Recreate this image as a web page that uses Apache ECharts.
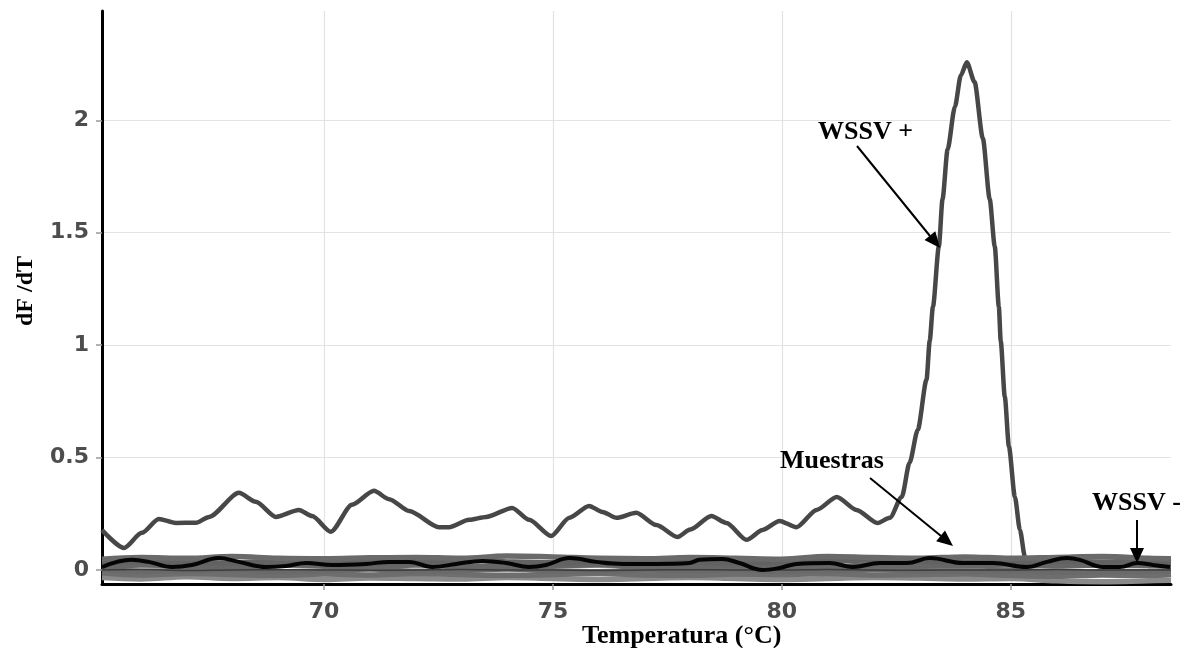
<!DOCTYPE html>
<html>
<head>
<meta charset="utf-8">
<script src="https://cdn.jsdelivr.net/npm/echarts@6/dist/echarts.min.js"></script>
<style>
html,body{margin:0;padding:0;background:#fff;}
#chart{width:1185px;height:648px;}
</style>
</head>
<body>
<div id="chart"></div>
<script>
// ---- Data ----
// WSSV + (positive control) melt-derivative curve
const wssvPosTemp = [65.15,65.63,66.02,66.39,66.76,67.20,67.49,68.14,68.51,68.95,69.45,69.74,70.15,70.61,71.09,71.42,71.86,72.51,72.73,73.17,73.54,74.11,74.48,74.96,75.36,75.79,76.08,76.39,76.82,77.26,77.72,78.00,78.46,78.79,79.23,79.58,79.95,80.32,80.76,81.20,81.63,82.09,82.36,82.62,82.79,82.97,83.16,83.23,83.30,83.43,83.51,83.62,83.78,83.91,84.04,84.21,84.39,84.54,84.65,84.74,84.78,84.87,84.96,85.09,85.20,85.31,85.40,85.8,86.5,87.3,88.0,88.5];
const wssvPosVal  = [0.178,0.098,0.165,0.227,0.209,0.210,0.236,0.343,0.303,0.236,0.267,0.240,0.170,0.290,0.352,0.315,0.262,0.190,0.190,0.223,0.236,0.276,0.223,0.151,0.232,0.285,0.258,0.232,0.254,0.200,0.147,0.180,0.240,0.209,0.134,0.178,0.218,0.190,0.267,0.325,0.267,0.209,0.232,0.325,0.477,0.624,0.846,1.020,1.170,1.440,1.650,1.870,2.060,2.200,2.258,2.170,1.920,1.650,1.440,1.170,1.020,0.770,0.548,0.325,0.178,0.058,0.020,0.030,0.020,0.025,0.020,0.020];

// WSSV - (negative control, black line)
const wssvNegTemp = [65.15,65.80,66.17,66.68,67.11,67.70,68.14,68.73,69.17,69.61,70.17,70.92,71.42,71.86,72.36,72.89,73.46,73.98,74.48,74.85,75.36,75.95,76.52,77.26,77.98,78.20,78.70,79.07,79.58,79.95,80.32,81.04,81.55,82.14,82.73,83.23,83.95,84.61,85.35,85.79,86.23,86.51,87.01,87.38,87.76,88.11,88.48];
const wssvNegVal  = [0.013,0.045,0.036,0.013,0.022,0.053,0.036,0.013,0.018,0.031,0.022,0.027,0.036,0.036,0.013,0.027,0.040,0.031,0.013,0.022,0.053,0.036,0.027,0.027,0.031,0.045,0.049,0.031,0.000,0.009,0.027,0.031,0.013,0.031,0.031,0.053,0.031,0.031,0.013,0.036,0.053,0.045,0.013,0.013,0.031,0.022,0.013];

// Muestras (samples): gray band of curves near zero
const sampleTemp = [65.15,66,67,68,69,70,71,72,73,74,75,76,77,78,79,80,81,82,83,84,85,86,87,88,88.5];
const sample1 = [0.048,0.055,0.052,0.060,0.052,0.050,0.054,0.056,0.052,0.062,0.058,0.052,0.050,0.055,0.052,0.048,0.060,0.055,0.052,0.058,0.052,0.056,0.060,0.052,0.050];
const sample2 = [0.032,0.040,0.036,0.030,0.040,0.036,0.032,0.040,0.044,0.036,0.032,0.040,0.042,0.036,0.032,0.038,0.040,0.044,0.040,0.036,0.032,0.040,0.036,0.040,0.036];
const sample3 = [0.014,0.022,0.018,0.014,0.022,0.020,0.016,0.022,0.018,0.014,0.020,0.022,0.018,0.016,0.022,0.018,0.014,0.022,0.020,0.018,0.022,0.018,0.022,0.020,0.018];
const sample4 = [-0.012,-0.022,-0.016,-0.020,-0.024,-0.018,-0.022,-0.016,-0.020,-0.024,-0.020,-0.016,-0.022,-0.024,-0.018,-0.020,-0.016,-0.022,-0.020,-0.018,-0.024,-0.028,-0.022,-0.024,-0.020];
const sample5 = [-0.034,-0.040,-0.030,-0.038,-0.034,-0.042,-0.036,-0.038,-0.040,-0.034,-0.038,-0.042,-0.038,-0.034,-0.038,-0.042,-0.038,-0.034,-0.036,-0.040,-0.038,-0.048,-0.052,-0.048,-0.046];
const sample6 = [0.000,0.002,-0.002,0.000,0.001,0.000,-0.001,0.000,0.002,0.000,0.000,-0.002,0.000,0.001,0.000,0.000,0.002,0.000,-0.001,0.000,0.000,0.002,0.000,0.000,0.000];
const sample7 = [0.004,-0.006,-0.004,0.002,-0.008,-0.004,0.004,-0.006,-0.002,0.004,-0.004,-0.008,0.000,-0.004,0.002,-0.006,-0.004,0.002,-0.004,-0.006,-0.002,-0.010,-0.008,-0.006,-0.004];

// Axis settings
const xMin = 65.15, xMax = 88.5;
const yMin = -0.0624, yMax = 2.486;

// Annotation texts
const labelPos = 'WSSV +';
const labelSamples = 'Muestras';
const labelNeg = 'WSSV -';
const xTitle = 'Temperatura (°C)';
const yTitle = 'dF /dT';

function pairs(t, v) { return t.map((x, i) => [x, v[i]]); }

const chart = echarts.init(document.getElementById('chart'), null, {renderer: 'canvas'});
const grayLine = (data, w, c) => ({
  type: 'line', data: data, showSymbol: false, symbol: 'none', smooth: 0.4,
  lineStyle: {color: c, width: w}, silent: true, z: 3
});
const gridColor = '#e3e3e3';
const clear = 'rgba(0,0,0,0)';

const option = {
  animation: false,
  backgroundColor: '#ffffff',
  grid: {left: 102, right: 14, top: 11, bottom: 64},
  xAxis: {
    type: 'value', min: xMin, max: xMax, splitNumber: 5,
    axisLine: {onZero: false, lineStyle: {color: '#000', width: 3}},
    axisTick: {show: true, length: 6, lineStyle: {color: '#999', width: 1.5}},
    axisLabel: {color: '#4d4d4d', fontFamily: 'DejaVu Sans', fontWeight: 'bold', fontSize: 22, margin: 17, showMinLabel: false, showMaxLabel: false},
    splitLine: {show: true, lineStyle: {color: [clear, gridColor, gridColor, gridColor, gridColor, clear], width: 1.2}}
  },
  yAxis: {
    type: 'value', min: yMin, max: yMax, splitNumber: 5,
    axisLine: {show: true, lineStyle: {color: '#000', width: 3}},
    axisTick: {show: true, length: 6, lineStyle: {color: '#999', width: 1.5}},
    axisLabel: {color: '#4d4d4d', fontFamily: 'DejaVu Sans', fontWeight: 'bold', fontSize: 22, margin: 13, showMinLabel: false, showMaxLabel: false},
    splitLine: {show: true, lineStyle: {color: [clear, gridColor, gridColor, gridColor, gridColor, gridColor, clear], width: 1.2}}
  },
  series: [
    {
      type: 'line', name: labelPos, data: pairs(wssvPosTemp, wssvPosVal),
      showSymbol: false, symbol: 'none', smooth: 0.25, smoothMonotone: 'x', silent: true, z: 2,
      lineStyle: {color: '#474747', width: 4.5}
    },
    grayLine(pairs(sampleTemp, sample5), 5.5, '#8a8a8a'),
    grayLine(pairs(sampleTemp, sample4), 5.5, '#6e6e6e'),
    grayLine(pairs(sampleTemp, sample7), 5.5, '#6a6a6a'),
    grayLine(pairs(sampleTemp, sample3), 5.5, '#666'),
    grayLine(pairs(sampleTemp, sample2), 5.5, '#626262'),
    grayLine(pairs(sampleTemp, sample1), 5.5, '#6a6a6a'),
    grayLine(pairs(sampleTemp, sample6), 1.5, '#3c3c3c'),
    {
      type: 'line', name: labelNeg, data: pairs(wssvNegTemp, wssvNegVal),
      showSymbol: false, symbol: 'none', smooth: 0.4, silent: true, z: 4,
      lineStyle: {color: '#050505', width: 4}
    }
  ],
  graphic: [
    {type: 'text', x: 818, y: 132, style: {text: labelPos, font: 'bold 26px "Liberation Serif"', fill: '#000', textAlign: 'left', textVerticalAlign: 'middle'}, z: 10},
    {type: 'line', shape: {x1: 857, y1: 146, x2: 930, y2: 236}, style: {stroke: '#000', lineWidth: 2}, z: 10},
    {type: 'polygon', shape: {points: [[940, 248], [924.5, 240], [935.3, 231.2]]}, style: {fill: '#000'}, z: 10},

    {type: 'text', x: 780, y: 461, style: {text: labelSamples, font: 'bold 26px "Liberation Serif"', fill: '#000', textAlign: 'left', textVerticalAlign: 'middle'}, z: 10},
    {type: 'line', shape: {x1: 870, y1: 478, x2: 941, y2: 536}, style: {stroke: '#000', lineWidth: 2}, z: 10},
    {type: 'polygon', shape: {points: [[953, 546], [936.2, 541.3], [945, 530.5]]}, style: {fill: '#000'}, z: 10},

    {type: 'text', x: 1092, y: 503.5, style: {text: labelNeg, font: 'bold 26px "Liberation Serif"', fill: '#000', textAlign: 'left', textVerticalAlign: 'middle'}, z: 10},
    {type: 'line', shape: {x1: 1137, y1: 520, x2: 1137, y2: 549}, style: {stroke: '#000', lineWidth: 2}, z: 10},
    {type: 'polygon', shape: {points: [[1137, 563], [1130, 548], [1144, 548]]}, style: {fill: '#000'}, z: 10},

    {type: 'text', x: 582, y: 636, style: {text: xTitle, font: 'bold 26px "Liberation Serif"', fill: '#000', textAlign: 'left', textVerticalAlign: 'middle'}, z: 10},
    {type: 'text', x: 26, y: 291, rotation: Math.PI / 2, style: {text: yTitle, font: 'bold 24px "Liberation Serif"', fill: '#000', textAlign: 'center', textVerticalAlign: 'middle'}, z: 10}
  ]
};
chart.setOption(option);
</script>
</body>
</html>
